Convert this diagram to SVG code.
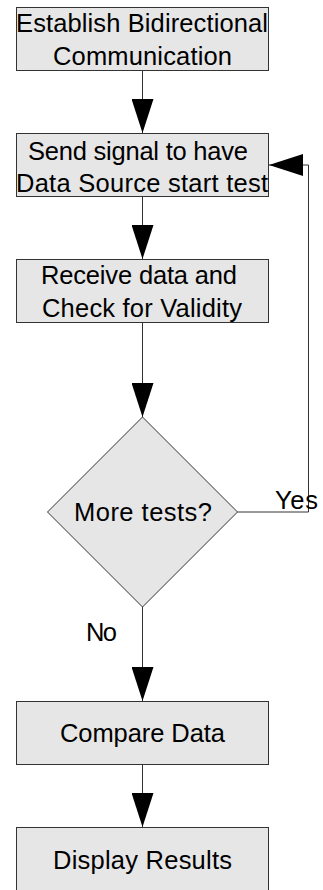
<svg xmlns="http://www.w3.org/2000/svg" width="323" height="890" viewBox="0 0 323 890">
<style>
.box{fill:#e6e6e6;stroke:#333;stroke-width:1}
.t{font-family:"Liberation Sans",Arial,sans-serif;font-size:25.5px;fill:#000}
.c{fill:none;stroke:#333;stroke-width:1}
</style>
<defs>
<marker id="ah" markerUnits="userSpaceOnUse" markerWidth="34" markerHeight="22" refX="34" refY="11" orient="auto">
<path d="M0,0 L34,11 L0,22 z" fill="#000"/>
</marker>
</defs>
<rect width="323" height="890" fill="#fff"/>
<g id="connectors">
<line class="c" x1="142.5" y1="70" x2="142.5" y2="133" marker-end="url(#ah)"/>
<line class="c" x1="142.5" y1="197" x2="142.5" y2="259" marker-end="url(#ah)"/>
<line class="c" x1="142.5" y1="323" x2="142.5" y2="417" marker-end="url(#ah)"/>
<line class="c" x1="142.5" y1="607" x2="142.5" y2="701" marker-end="url(#ah)"/>
<line class="c" x1="142.5" y1="765" x2="142.5" y2="827" marker-end="url(#ah)"/>
<polyline class="c" points="237.5,512 308.5,512 308.5,165 269,165" marker-end="url(#ah)"/>
<text class="t" x="275" y="508.5" textLength="43">Yes</text>
<text class="t" x="86" y="641" textLength="31">No</text>
</g>
<g id="n1">
<rect class="box" x="16.5" y="7.5" width="252" height="63"/>
<text class="t" x="16" y="31.5" textLength="252">Establish Bidirectional</text>
<text class="t" x="53" y="65" textLength="179">Communication</text>
</g>
<g id="n2">
<rect class="box" x="16.5" y="133.5" width="252" height="63"/>
<text class="t" x="28" y="159.5" textLength="220">Send signal to have</text>
<text class="t" x="16" y="192" textLength="252">Data Source start test</text>
</g>
<g id="n3">
<rect class="box" x="16.5" y="259.5" width="252" height="63"/>
<text class="t" x="41" y="283.5" textLength="196">Receive data and</text>
<text class="t" x="42" y="316.5" textLength="200">Check for Validity</text>
</g>
<g id="n4">
<polygon class="box" points="142.5,417 237.5,512 142.5,607 47.5,512"/>
<text class="t" x="74" y="520.5" textLength="138">More tests?</text>
</g>
<g id="n5">
<rect class="box" x="16.5" y="701.5" width="252" height="63"/>
<text class="t" x="60" y="742" textLength="165">Compare Data</text>
</g>
<g id="n6">
<rect class="box" x="16.5" y="827.5" width="252" height="63"/>
<text class="t" x="53" y="869" textLength="179">Display Results</text>
</g>
</svg>
